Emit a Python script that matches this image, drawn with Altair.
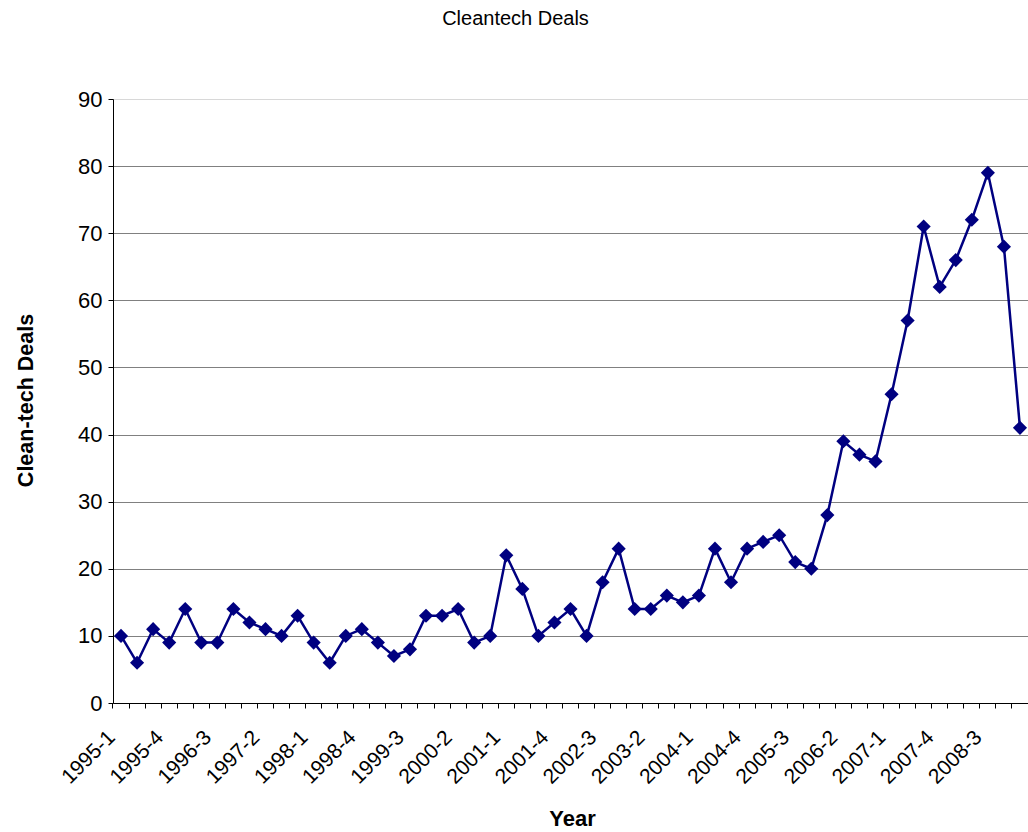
import altair as alt
import pandas as pd

# Quarterly clean-tech deal counts, 1995-1 through 2009-1
quarters = [f"{year}-{q}" for year in range(1995, 2010) for q in range(1, 5)][:57]
deals = [10, 6, 11, 9, 14, 9, 9, 14, 12, 11, 10, 13, 9, 6, 10, 11, 9, 7, 8,
         13, 13, 14, 9, 10, 22, 17, 10, 12, 14, 10, 18, 23, 14, 14, 16, 15,
         16, 23, 18, 23, 24, 25, 21, 20, 28, 39, 37, 36, 46, 57, 71, 62, 66,
         72, 79, 68, 41]

# Every third quarter carries a label on the category axis
tick_labels = ["1995-1", "1995-4", "1996-3", "1997-2", "1998-1", "1998-4",
               "1999-3", "2000-2", "2001-1", "2001-4", "2002-3", "2003-2",
               "2004-1", "2004-4", "2005-3", "2006-2", "2007-1", "2007-4",
               "2008-3"]
y_ticks = [0, 10, 20, 30, 40, 50, 60, 70, 80, 90]

df = pd.DataFrame({"quarter": quarters, "deals": deals})

FONT = "Liberation Sans"
NAVY = "#000080"
label_list = "[" + ",".join(f"'{t}'" for t in tick_labels) + "]"

x_enc = alt.X(
    "quarter:O",
    sort=quarters,
    scale=alt.Scale(type="band", paddingInner=0, paddingOuter=0),
    axis=alt.Axis(
        title="Year",
        bandPosition=0,
        labelExpr=f"indexof({label_list}, datum.value) >= 0 ? datum.value : ''",
        labelAngle=-45,
        labelAlign="right",
        labelBaseline="middle",
        labelPadding=26,
        labelOffset=-9,
        labelFont=FONT,
        labelFontSize=21,
        labelColor="black",
        labelOverlap=False,
        tickSize=5,
        tickColor="black",
        domainColor="black",
        grid=False,
        titleFont=FONT,
        titleFontSize=22,
        titleFontWeight="bold",
        titleColor="black",
        titleX=459,
        titleY=122,
        titleAlign="center",
        titleBaseline="alphabetic",
    ),
)

y_enc = alt.Y(
    "deals:Q",
    scale=alt.Scale(domain=[0, 90], nice=False),
    axis=alt.Axis(
        title="Clean-tech Deals",
        values=y_ticks,
        labelFont=FONT,
        labelFontSize=22,
        labelColor="black",
        labelPadding=6,
        tickSize=5,
        tickColor="black",
        domainColor="black",
        grid=True,
        gridColor={"condition": {"test": "datum.value == 90", "value": "#d8d8d8"},
                   "value": "#808080"},
        gridWidth=1,
        titleFont=FONT,
        titleFontSize=21.5,
        titleFontWeight="bold",
        titleColor="black",
        titleAngle=-90,
        titleX=-81,
        titleY=301,
        titleAlign="center",
        titleBaseline="alphabetic",
    ),
)

base = alt.Chart(df).encode(x=x_enc, y=y_enc)

line = base.mark_line(color=NAVY, strokeWidth=2.5)
points = base.mark_point(shape="diamond", filled=True, size=200, color=NAVY, opacity=1)

chart = (
    (line + points)
    .properties(
        width=915,
        height=604,
        autosize=alt.AutoSizeParams(type="none"),
        padding={"left": 113, "top": 99, "right": 0, "bottom": 129},
        title=alt.TitleParams(
            "Cleantech Deals",
            font=FONT,
            fontSize=20,
            fontWeight="normal",
            color="black",
            anchor="middle",
            frame="group",
            dx=-55,
            offset=43,
            baseline="alphabetic",
        ),
    )
    .configure_view(stroke=None)
    .configure(background="white")
)

chart.save("out.html", embed_options={"renderer": "svg", "actions": False})
